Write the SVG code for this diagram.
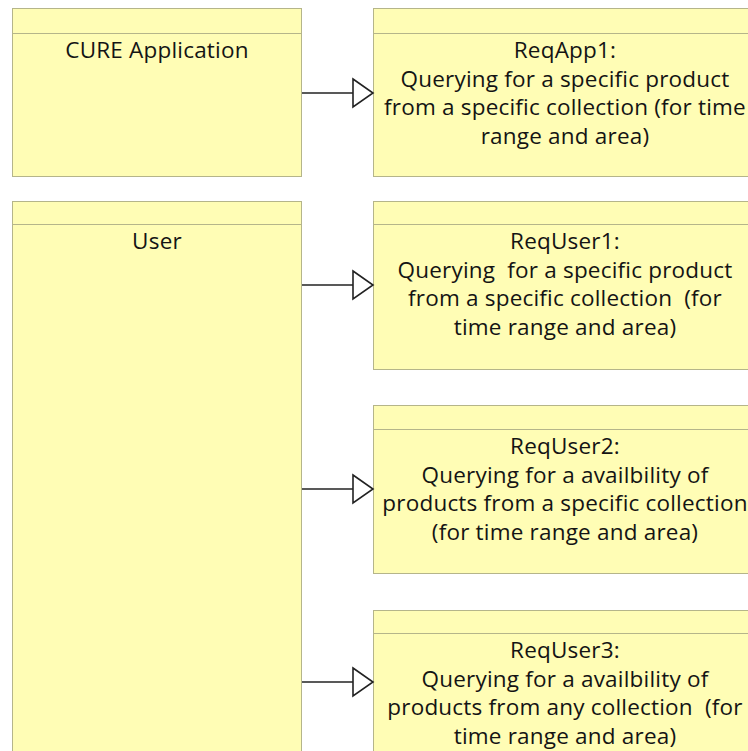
<svg xmlns="http://www.w3.org/2000/svg" width="748" height="751" viewBox="0 0 748 751">
<style>
.box{fill:#FFFDB5;stroke:#B5B58A;stroke-width:1}
.hdr{stroke:#B5B58A;stroke-width:1}
text{font-family:"Open Sans","Noto Sans","Liberation Sans",sans-serif;font-size:22.5px;letter-spacing:0.2px;fill:#141414;text-anchor:middle;white-space:pre}
.conn line{stroke:#222;stroke-width:1.6}
.conn polygon{fill:#fff;stroke:#222;stroke-width:1.6;stroke-linejoin:miter}
</style>
<rect width="748" height="751" fill="#fff"/>
<g id="cure-application">
<rect class="box" x="12.5" y="8.5" width="289" height="168"/>
<line class="hdr" x1="12.5" y1="33.5" x2="301.5" y2="33.5"/>
<text x="157" y="58">CURE Application</text>
</g>
<g id="reqapp1">
<rect class="box" x="373.5" y="8.5" width="384" height="168"/>
<line class="hdr" x1="373.5" y1="33.5" x2="757.5" y2="33.5"/>
<text x="565" y="58">ReqApp1:</text>
<text x="565" y="86.5">Querying for a specific product</text>
<text x="565" y="115">from a specific collection (for time</text>
<text x="565" y="143.5">range and area)</text>
</g>
<g id="user">
<rect class="box" x="12.5" y="201.5" width="289" height="560"/>
<line class="hdr" x1="12.5" y1="224.5" x2="301.5" y2="224.5"/>
<text x="157" y="249">User</text>
</g>
<g id="requser1">
<rect class="box" x="373.5" y="201.5" width="384" height="168"/>
<line class="hdr" x1="373.5" y1="224.5" x2="757.5" y2="224.5"/>
<text x="565" y="249">ReqUser1:</text>
<text x="565" y="277.5" xml:space="preserve">Querying  for a specific product</text>
<text x="565" y="306" xml:space="preserve">from a specific collection  (for</text>
<text x="565" y="334.5">time range and area)</text>
</g>
<g id="requser2">
<rect class="box" x="373.5" y="405.5" width="384" height="168"/>
<line class="hdr" x1="373.5" y1="429.5" x2="757.5" y2="429.5"/>
<text x="565" y="454">ReqUser2:</text>
<text x="565" y="482.5">Querying for a availbility of</text>
<text x="565" y="511">products from a specific collection</text>
<text x="565" y="539.5">(for time range and area)</text>
</g>
<g id="requser3">
<rect class="box" x="373.5" y="610.5" width="384" height="168"/>
<line class="hdr" x1="373.5" y1="633.5" x2="757.5" y2="633.5"/>
<text x="565" y="658">ReqUser3:</text>
<text x="565" y="686.5">Querying for a availbility of</text>
<text x="565" y="715" xml:space="preserve">products from any collection  (for</text>
<text x="565" y="743.5">time range and area)</text>
</g>
<g id="connectors" class="conn">
<line x1="302" y1="93" x2="353" y2="93"/>
<polygon points="353,79 373,93 353,107"/>
<line x1="302" y1="285" x2="353" y2="285"/>
<polygon points="353,271 373,285 353,299"/>
<line x1="302" y1="489" x2="353" y2="489"/>
<polygon points="353,475 373,489 353,503"/>
<line x1="302" y1="682" x2="353" y2="682"/>
<polygon points="353,668 373,682 353,696"/>
</g>
</svg>
